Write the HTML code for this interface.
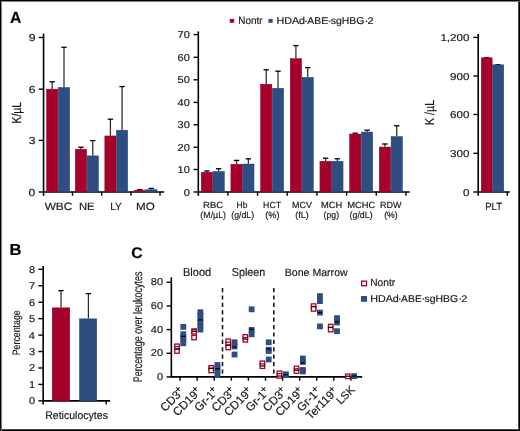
<!DOCTYPE html>
<html><head><meta charset="utf-8"><style>
html,body{margin:0;padding:0;background:#fff;}
svg{display:block;will-change:transform;font-family:"Liberation Sans",sans-serif;}
text{stroke:#1a1a1a;stroke-width:0.18px;text-rendering:geometricPrecision;}
</style></head><body>
<svg width="520" height="431" viewBox="0 0 520 431">
<rect x="0" y="0" width="520" height="431" fill="#fff"/>
<text transform="translate(9.9,23) scale(0.98,1)" font-size="16.09" font-weight="bold" fill="#000">A</text>
<text transform="translate(9.52,255.4) scale(1.04,1)" font-size="15.94" font-weight="bold" fill="#000">B</text>
<text transform="translate(131.27,258.3) scale(1.02,1)" font-size="15.43" font-weight="bold" fill="#000">C</text>
<line x1="43.55" y1="33.6" x2="43.55" y2="195.8" stroke="#000" stroke-width="1.6"/>
<line x1="42.8" y1="192" x2="164.2" y2="192" stroke="#000" stroke-width="1.6"/>
<line x1="38.75" y1="192" x2="43.05" y2="192" stroke="#000" stroke-width="1.4"/>
<text transform="translate(28.6,195.8) scale(1.2,1)" font-size="10.1" fill="#1a1a1a">0</text>
<line x1="38.75" y1="140.4" x2="43.05" y2="140.4" stroke="#000" stroke-width="1.4"/>
<text transform="translate(28.66,144.2) scale(1.2,1)" font-size="10.1" fill="#1a1a1a">3</text>
<line x1="38.75" y1="89.15" x2="43.05" y2="89.15" stroke="#000" stroke-width="1.4"/>
<text transform="translate(28.66,92.95) scale(1.2,1)" font-size="10.1" fill="#1a1a1a">6</text>
<line x1="38.75" y1="37.5" x2="43.05" y2="37.5" stroke="#000" stroke-width="1.4"/>
<text transform="translate(28.72,41.3) scale(1.2,1)" font-size="10.1" fill="#1a1a1a">9</text>
<line x1="72.5" y1="192" x2="72.5" y2="195.8" stroke="#000" stroke-width="1.4"/>
<line x1="101.7" y1="192" x2="101.7" y2="195.8" stroke="#000" stroke-width="1.4"/>
<line x1="131" y1="192" x2="131" y2="195.8" stroke="#000" stroke-width="1.4"/>
<line x1="160" y1="192" x2="160" y2="195.8" stroke="#000" stroke-width="1.4"/>
<text transform="translate(21,123.53) rotate(-90) scale(0.81,1)" font-size="12.9" fill="#1a1a1a">K/µL</text>
<line x1="52.2" y1="81.6" x2="52.2" y2="88.9" stroke="#2a2a2a" stroke-width="1.25"/>
<line x1="49.5" y1="81.8" x2="54.9" y2="81.8" stroke="#000" stroke-width="1.3"/>
<line x1="64" y1="47" x2="64" y2="87.2" stroke="#2a2a2a" stroke-width="1.25"/>
<line x1="61.3" y1="47.2" x2="66.7" y2="47.2" stroke="#000" stroke-width="1.3"/>
<rect x="46.55" y="89.15" width="11.3" height="102.85" fill="#a6002c" stroke="#8c001f" stroke-width="0.5"/>
<rect x="58.35" y="87.45" width="11.3" height="104.55" fill="#2e4d80" stroke="#223f74" stroke-width="0.5"/>
<line x1="80.95" y1="147" x2="80.95" y2="149" stroke="#2a2a2a" stroke-width="1.25"/>
<line x1="78.25" y1="147.2" x2="83.65" y2="147.2" stroke="#000" stroke-width="1.3"/>
<line x1="92.75" y1="140.4" x2="92.75" y2="155.6" stroke="#2a2a2a" stroke-width="1.25"/>
<line x1="90.05" y1="140.6" x2="95.45" y2="140.6" stroke="#000" stroke-width="1.3"/>
<rect x="75.3" y="149.25" width="11.3" height="42.75" fill="#a6002c" stroke="#8c001f" stroke-width="0.5"/>
<rect x="87.1" y="155.85" width="11.3" height="36.15" fill="#2e4d80" stroke="#223f74" stroke-width="0.5"/>
<line x1="110.42" y1="119" x2="110.42" y2="135.7" stroke="#2a2a2a" stroke-width="1.25"/>
<line x1="107.72" y1="119.2" x2="113.12" y2="119.2" stroke="#000" stroke-width="1.3"/>
<line x1="122.08" y1="86.4" x2="122.08" y2="129.96" stroke="#2a2a2a" stroke-width="1.25"/>
<line x1="119.38" y1="86.6" x2="124.78" y2="86.6" stroke="#000" stroke-width="1.3"/>
<rect x="104.85" y="135.95" width="11.15" height="56.05" fill="#a6002c" stroke="#8c001f" stroke-width="0.5"/>
<rect x="116.5" y="130.21" width="11.15" height="61.79" fill="#2e4d80" stroke="#223f74" stroke-width="0.5"/>
<line x1="139.8" y1="189.5" x2="139.8" y2="189.9" stroke="#2a2a2a" stroke-width="1.25"/>
<line x1="137.1" y1="189.7" x2="142.5" y2="189.7" stroke="#000" stroke-width="1.3"/>
<line x1="151.35" y1="188.2" x2="151.35" y2="189.4" stroke="#2a2a2a" stroke-width="1.25"/>
<line x1="148.65" y1="188.4" x2="154.05" y2="188.4" stroke="#000" stroke-width="1.3"/>
<rect x="134.35" y="190.15" width="10.9" height="1.85" fill="#a6002c" stroke="#8c001f" stroke-width="0.5"/>
<rect x="145.75" y="189.65" width="11.2" height="2.35" fill="#2e4d80" stroke="#223f74" stroke-width="0.5"/>
<text transform="translate(44.64,209.6) scale(1.12,1)" font-size="10.58" fill="#1a1a1a">WBC</text>
<text transform="translate(79,209.6) scale(1.06,1)" font-size="10.58" fill="#1a1a1a">NE</text>
<text transform="translate(110.19,209.6) scale(0.96,1)" font-size="10.58" fill="#1a1a1a">LY</text>
<text transform="translate(135.97,209.6) scale(1.1,1)" font-size="10.58" fill="#1a1a1a">MO</text>
<line x1="198.3" y1="31.4" x2="198.3" y2="195.8" stroke="#000" stroke-width="1.6"/>
<line x1="197.55" y1="192" x2="409.8" y2="192" stroke="#000" stroke-width="1.6"/>
<line x1="193.5" y1="192" x2="197.8" y2="192" stroke="#000" stroke-width="1.4"/>
<text transform="translate(183.68,195.5) scale(1.1,1)" font-size="10" fill="#1a1a1a">0</text>
<line x1="193.5" y1="169.5" x2="197.8" y2="169.5" stroke="#000" stroke-width="1.4"/>
<text transform="translate(177.58,173) scale(1.1,1)" font-size="10" fill="#1a1a1a">10</text>
<line x1="193.5" y1="147.3" x2="197.8" y2="147.3" stroke="#000" stroke-width="1.4"/>
<text transform="translate(177.58,150.8) scale(1.1,1)" font-size="10" fill="#1a1a1a">20</text>
<line x1="193.5" y1="124.8" x2="197.8" y2="124.8" stroke="#000" stroke-width="1.4"/>
<text transform="translate(177.58,128.3) scale(1.1,1)" font-size="10" fill="#1a1a1a">30</text>
<line x1="193.5" y1="102.4" x2="197.8" y2="102.4" stroke="#000" stroke-width="1.4"/>
<text transform="translate(177.58,105.9) scale(1.1,1)" font-size="10" fill="#1a1a1a">40</text>
<line x1="193.5" y1="79.8" x2="197.8" y2="79.8" stroke="#000" stroke-width="1.4"/>
<text transform="translate(177.58,83.3) scale(1.1,1)" font-size="10" fill="#1a1a1a">50</text>
<line x1="193.5" y1="57.3" x2="197.8" y2="57.3" stroke="#000" stroke-width="1.4"/>
<text transform="translate(177.58,60.8) scale(1.1,1)" font-size="10" fill="#1a1a1a">60</text>
<line x1="193.5" y1="34.6" x2="197.8" y2="34.6" stroke="#000" stroke-width="1.4"/>
<text transform="translate(177.58,38.1) scale(1.1,1)" font-size="10" fill="#1a1a1a">70</text>
<line x1="227.88" y1="192" x2="227.88" y2="195.8" stroke="#000" stroke-width="1.4"/>
<line x1="257.56" y1="192" x2="257.56" y2="195.8" stroke="#000" stroke-width="1.4"/>
<line x1="287.24" y1="192" x2="287.24" y2="195.8" stroke="#000" stroke-width="1.4"/>
<line x1="316.92" y1="192" x2="316.92" y2="195.8" stroke="#000" stroke-width="1.4"/>
<line x1="346.6" y1="192" x2="346.6" y2="195.8" stroke="#000" stroke-width="1.4"/>
<line x1="376.28" y1="192" x2="376.28" y2="195.8" stroke="#000" stroke-width="1.4"/>
<line x1="405.96" y1="192" x2="405.96" y2="195.8" stroke="#000" stroke-width="1.4"/>
<line x1="206.87" y1="170.8" x2="206.87" y2="172" stroke="#2a2a2a" stroke-width="1.25"/>
<line x1="204.17" y1="171" x2="209.57" y2="171" stroke="#000" stroke-width="1.3"/>
<line x1="218.67" y1="168.5" x2="218.67" y2="171.2" stroke="#2a2a2a" stroke-width="1.25"/>
<line x1="215.97" y1="168.7" x2="221.37" y2="168.7" stroke="#000" stroke-width="1.3"/>
<rect x="201.22" y="172.25" width="11.3" height="19.75" fill="#a6002c" stroke="#8c001f" stroke-width="0.5"/>
<rect x="213.02" y="171.45" width="11.3" height="20.55" fill="#2e4d80" stroke="#223f74" stroke-width="0.5"/>
<line x1="236.55" y1="160.2" x2="236.55" y2="164" stroke="#2a2a2a" stroke-width="1.25"/>
<line x1="233.85" y1="160.4" x2="239.25" y2="160.4" stroke="#000" stroke-width="1.3"/>
<line x1="248.35" y1="158.6" x2="248.35" y2="163.8" stroke="#2a2a2a" stroke-width="1.25"/>
<line x1="245.65" y1="158.8" x2="251.05" y2="158.8" stroke="#000" stroke-width="1.3"/>
<rect x="230.9" y="164.25" width="11.3" height="27.75" fill="#a6002c" stroke="#8c001f" stroke-width="0.5"/>
<rect x="242.7" y="164.05" width="11.3" height="27.95" fill="#2e4d80" stroke="#223f74" stroke-width="0.5"/>
<line x1="266.23" y1="69.6" x2="266.23" y2="84" stroke="#2a2a2a" stroke-width="1.25"/>
<line x1="263.53" y1="69.8" x2="268.93" y2="69.8" stroke="#000" stroke-width="1.3"/>
<line x1="278.03" y1="71" x2="278.03" y2="88" stroke="#2a2a2a" stroke-width="1.25"/>
<line x1="275.33" y1="71.2" x2="280.73" y2="71.2" stroke="#000" stroke-width="1.3"/>
<rect x="260.58" y="84.25" width="11.3" height="107.75" fill="#a6002c" stroke="#8c001f" stroke-width="0.5"/>
<rect x="272.38" y="88.25" width="11.3" height="103.75" fill="#2e4d80" stroke="#223f74" stroke-width="0.5"/>
<line x1="295.91" y1="45.4" x2="295.91" y2="58.4" stroke="#2a2a2a" stroke-width="1.25"/>
<line x1="293.21" y1="45.6" x2="298.61" y2="45.6" stroke="#000" stroke-width="1.3"/>
<line x1="307.71" y1="67.4" x2="307.71" y2="77.2" stroke="#2a2a2a" stroke-width="1.25"/>
<line x1="305.01" y1="67.6" x2="310.41" y2="67.6" stroke="#000" stroke-width="1.3"/>
<rect x="290.26" y="58.65" width="11.3" height="133.35" fill="#a6002c" stroke="#8c001f" stroke-width="0.5"/>
<rect x="302.06" y="77.45" width="11.3" height="114.55" fill="#2e4d80" stroke="#223f74" stroke-width="0.5"/>
<line x1="325.59" y1="158" x2="325.59" y2="161" stroke="#2a2a2a" stroke-width="1.25"/>
<line x1="322.89" y1="158.2" x2="328.29" y2="158.2" stroke="#000" stroke-width="1.3"/>
<line x1="337.39" y1="158.6" x2="337.39" y2="161" stroke="#2a2a2a" stroke-width="1.25"/>
<line x1="334.69" y1="158.8" x2="340.09" y2="158.8" stroke="#000" stroke-width="1.3"/>
<rect x="319.94" y="161.25" width="11.3" height="30.75" fill="#a6002c" stroke="#8c001f" stroke-width="0.5"/>
<rect x="331.74" y="161.25" width="11.3" height="30.75" fill="#2e4d80" stroke="#223f74" stroke-width="0.5"/>
<line x1="355.27" y1="133" x2="355.27" y2="133.8" stroke="#2a2a2a" stroke-width="1.25"/>
<line x1="352.57" y1="133.2" x2="357.97" y2="133.2" stroke="#000" stroke-width="1.3"/>
<line x1="367.07" y1="130" x2="367.07" y2="131.8" stroke="#2a2a2a" stroke-width="1.25"/>
<line x1="364.37" y1="130.2" x2="369.77" y2="130.2" stroke="#000" stroke-width="1.3"/>
<rect x="349.62" y="134.05" width="11.3" height="57.95" fill="#a6002c" stroke="#8c001f" stroke-width="0.5"/>
<rect x="361.42" y="132.05" width="11.3" height="59.95" fill="#2e4d80" stroke="#223f74" stroke-width="0.5"/>
<line x1="384.95" y1="143.8" x2="384.95" y2="146.8" stroke="#2a2a2a" stroke-width="1.25"/>
<line x1="382.25" y1="144" x2="387.65" y2="144" stroke="#000" stroke-width="1.3"/>
<line x1="396.75" y1="125.6" x2="396.75" y2="136.3" stroke="#2a2a2a" stroke-width="1.25"/>
<line x1="394.05" y1="125.8" x2="399.45" y2="125.8" stroke="#000" stroke-width="1.3"/>
<rect x="379.3" y="147.05" width="11.3" height="44.95" fill="#a6002c" stroke="#8c001f" stroke-width="0.5"/>
<rect x="391.1" y="136.55" width="11.3" height="55.45" fill="#2e4d80" stroke="#223f74" stroke-width="0.5"/>
<text transform="translate(203.03,207.7) scale(1.08,1)" font-size="8.84" fill="#1a1a1a">RBC</text>
<text transform="translate(200.37,218.09) scale(0.97,1)" font-size="9.09" fill="#1a1a1a">(M/µL)</text>
<text transform="translate(236.62,207.7) scale(0.96,1)" font-size="8.84" fill="#1a1a1a">Hb</text>
<text transform="translate(231.28,218.09) scale(0.96,1)" font-size="9.09" fill="#1a1a1a">(g/dL)</text>
<text transform="translate(263.1,207.7) scale(0.99,1)" font-size="8.84" fill="#1a1a1a">HCT</text>
<text transform="translate(265.25,218.09) scale(1.01,1)" font-size="9.09" fill="#1a1a1a">(%)</text>
<text transform="translate(291.88,207.7) scale(1.02,1)" font-size="8.84" fill="#1a1a1a">MCV</text>
<text transform="translate(295.27,218.09) scale(0.98,1)" font-size="9.09" fill="#1a1a1a">(fL)</text>
<text transform="translate(321.05,207.7) scale(1.06,1)" font-size="8.84" fill="#1a1a1a">MCH</text>
<text transform="translate(323.57,218.09) scale(0.96,1)" font-size="9.09" fill="#1a1a1a">(pg)</text>
<text transform="translate(347.15,207.7) scale(1.06,1)" font-size="8.84" fill="#1a1a1a">MCHC</text>
<text transform="translate(349.57,218.09) scale(0.97,1)" font-size="9.09" fill="#1a1a1a">(g/dL)</text>
<text transform="translate(380.08,207.7) scale(1.02,1)" font-size="8.84" fill="#1a1a1a">RDW</text>
<text transform="translate(384.18,218.09) scale(0.96,1)" font-size="9.09" fill="#1a1a1a">(%)</text>
<rect x="229.8" y="18.9" width="4.3" height="3.9" fill="#a6002c"/>
<text transform="translate(238.31,23.8) scale(0.95,1)" font-size="10.43" fill="#1a1a1a">Nontr</text>
<rect x="268.4" y="18.9" width="4.3" height="3.9" fill="#2e4d80"/>
<text transform="translate(276.45,23.8) scale(1.07,1)" font-size="10" fill="#1a1a1a">HDAd</text>
<text transform="translate(307.3,23.8) scale(1.07,1)" font-size="9.71" fill="#1a1a1a">ABE</text>
<text transform="translate(330.79,23.8) scale(1.04,1)" font-size="10" fill="#1a1a1a">sgHBG</text>
<text transform="translate(367.55,23.8) scale(1.13,1)" font-size="9.71" fill="#1a1a1a">2</text>
<rect x="305.2" y="20.7" width="1.6" height="1.2" fill="#1a1a1a"/>
<rect x="328.7" y="20.7" width="1.6" height="1.2" fill="#1a1a1a"/>
<rect x="365.7" y="20.7" width="1.6" height="1.2" fill="#1a1a1a"/>
<line x1="478.2" y1="34" x2="478.2" y2="195.8" stroke="#000" stroke-width="1.6"/>
<line x1="477.45" y1="192" x2="509.8" y2="192" stroke="#000" stroke-width="1.6"/>
<line x1="473.4" y1="192" x2="477.7" y2="192" stroke="#000" stroke-width="1.4"/>
<text transform="translate(462.97,195.6) scale(1.16,1)" font-size="10" fill="#1a1a1a">0</text>
<line x1="473.4" y1="153.3" x2="477.7" y2="153.3" stroke="#000" stroke-width="1.4"/>
<text transform="translate(450.09,156.9) scale(1.16,1)" font-size="10" fill="#1a1a1a">300</text>
<line x1="473.4" y1="114.5" x2="477.7" y2="114.5" stroke="#000" stroke-width="1.4"/>
<text transform="translate(450.09,118.1) scale(1.16,1)" font-size="10" fill="#1a1a1a">600</text>
<line x1="473.4" y1="76" x2="477.7" y2="76" stroke="#000" stroke-width="1.4"/>
<text transform="translate(450.09,79.6) scale(1.16,1)" font-size="10" fill="#1a1a1a">900</text>
<line x1="473.4" y1="37.4" x2="477.7" y2="37.4" stroke="#000" stroke-width="1.4"/>
<text transform="translate(440.41,41) scale(1.16,1)" font-size="10" fill="#1a1a1a">1,200</text>
<line x1="507.3" y1="192" x2="507.3" y2="195.8" stroke="#000" stroke-width="1.4"/>
<line x1="486.6" y1="57.45" x2="486.6" y2="58.5" stroke="#2a2a2a" stroke-width="1.25"/>
<line x1="484.1" y1="57.65" x2="489.1" y2="57.65" stroke="#000" stroke-width="1.3"/>
<line x1="497.95" y1="64.45" x2="497.95" y2="65.5" stroke="#2a2a2a" stroke-width="1.25"/>
<line x1="495.45" y1="64.65" x2="500.45" y2="64.65" stroke="#000" stroke-width="1.3"/>
<rect x="481.25" y="57.85" width="10.9" height="134.15" fill="#a6002c" stroke="#8c001f" stroke-width="0.5"/>
<rect x="492.65" y="64.85" width="11.1" height="127.15" fill="#2e4d80" stroke="#223f74" stroke-width="0.5"/>
<text transform="translate(485.13,209.8) scale(0.92,1)" font-size="10.43" fill="#1a1a1a">PLT</text>
<text transform="translate(433.8,125.05) rotate(-90) scale(0.82,1)" font-size="13.04" fill="#1a1a1a">K /µL</text>
<line x1="43.15" y1="266" x2="43.15" y2="404.6" stroke="#000" stroke-width="1.6"/>
<line x1="42.4" y1="400.85" x2="110.2" y2="400.85" stroke="#000" stroke-width="1.6"/>
<line x1="38.35" y1="400.85" x2="42.65" y2="400.85" stroke="#000" stroke-width="1.4"/>
<text transform="translate(28.88,404.35) scale(1.1,1)" font-size="10" fill="#1a1a1a">0</text>
<line x1="38.35" y1="384.41" x2="42.65" y2="384.41" stroke="#000" stroke-width="1.4"/>
<text transform="translate(28.99,387.91) scale(1.1,1)" font-size="10" fill="#1a1a1a">1</text>
<line x1="38.35" y1="367.97" x2="42.65" y2="367.97" stroke="#000" stroke-width="1.4"/>
<text transform="translate(29.05,371.47) scale(1.1,1)" font-size="10" fill="#1a1a1a">2</text>
<line x1="38.35" y1="351.53" x2="42.65" y2="351.53" stroke="#000" stroke-width="1.4"/>
<text transform="translate(28.94,355.03) scale(1.1,1)" font-size="10" fill="#1a1a1a">3</text>
<line x1="38.35" y1="335.09" x2="42.65" y2="335.09" stroke="#000" stroke-width="1.4"/>
<text transform="translate(28.83,338.59) scale(1.1,1)" font-size="10" fill="#1a1a1a">4</text>
<line x1="38.35" y1="318.65" x2="42.65" y2="318.65" stroke="#000" stroke-width="1.4"/>
<text transform="translate(28.94,322.15) scale(1.1,1)" font-size="10" fill="#1a1a1a">5</text>
<line x1="38.35" y1="302.21" x2="42.65" y2="302.21" stroke="#000" stroke-width="1.4"/>
<text transform="translate(28.94,305.71) scale(1.1,1)" font-size="10" fill="#1a1a1a">6</text>
<line x1="38.35" y1="285.77" x2="42.65" y2="285.77" stroke="#000" stroke-width="1.4"/>
<text transform="translate(29.05,289.27) scale(1.1,1)" font-size="10" fill="#1a1a1a">7</text>
<line x1="38.35" y1="269.33" x2="42.65" y2="269.33" stroke="#000" stroke-width="1.4"/>
<text transform="translate(28.94,272.83) scale(1.1,1)" font-size="10" fill="#1a1a1a">8</text>
<line x1="106.2" y1="400.85" x2="106.2" y2="404.6" stroke="#000" stroke-width="1.4"/>
<line x1="61" y1="290.4" x2="61" y2="307.6" stroke="#2a2a2a" stroke-width="1.25"/>
<line x1="58.3" y1="290.6" x2="63.7" y2="290.6" stroke="#000" stroke-width="1.3"/>
<line x1="88.4" y1="293.4" x2="88.4" y2="318.6" stroke="#2a2a2a" stroke-width="1.25"/>
<line x1="85.7" y1="293.6" x2="91.1" y2="293.6" stroke="#000" stroke-width="1.3"/>
<rect x="52.25" y="307.85" width="17.5" height="93" fill="#a6002c" stroke="#8c001f" stroke-width="0.5"/>
<rect x="79.45" y="318.85" width="17.3" height="82" fill="#2e4d80" stroke="#223f74" stroke-width="0.5"/>
<text transform="translate(45.15,418.6) scale(0.96,1)" font-size="11.01" fill="#1a1a1a">Reticulocytes</text>
<text transform="translate(19.5,355.3) rotate(-90) scale(0.82,1)" font-size="10.72" fill="#1a1a1a">Percentage</text>
<line x1="171.35" y1="277.3" x2="171.35" y2="377.65" stroke="#000" stroke-width="1.6"/>
<line x1="170.6" y1="376.9" x2="362.2" y2="376.9" stroke="#000" stroke-width="1.6"/>
<line x1="166.55" y1="376.9" x2="170.85" y2="376.9" stroke="#000" stroke-width="1.4"/>
<text transform="translate(156.88,380.05) scale(1.1,1)" font-size="10" fill="#1a1a1a">0</text>
<line x1="166.55" y1="353.25" x2="170.85" y2="353.25" stroke="#000" stroke-width="1.4"/>
<text transform="translate(150.78,356.4) scale(1.1,1)" font-size="10" fill="#1a1a1a">20</text>
<line x1="166.55" y1="329.6" x2="170.85" y2="329.6" stroke="#000" stroke-width="1.4"/>
<text transform="translate(150.78,332.75) scale(1.1,1)" font-size="10" fill="#1a1a1a">40</text>
<line x1="166.55" y1="305.95" x2="170.85" y2="305.95" stroke="#000" stroke-width="1.4"/>
<text transform="translate(150.78,309.1) scale(1.1,1)" font-size="10" fill="#1a1a1a">60</text>
<line x1="166.55" y1="282.3" x2="170.85" y2="282.3" stroke="#000" stroke-width="1.4"/>
<text transform="translate(150.78,285.45) scale(1.1,1)" font-size="10" fill="#1a1a1a">80</text>
<line x1="180.1" y1="376.9" x2="180.1" y2="380.7" stroke="#000" stroke-width="1.4"/>
<line x1="197.18" y1="376.9" x2="197.18" y2="380.7" stroke="#000" stroke-width="1.4"/>
<line x1="214.26" y1="376.9" x2="214.26" y2="380.7" stroke="#000" stroke-width="1.4"/>
<line x1="231.34" y1="376.9" x2="231.34" y2="380.7" stroke="#000" stroke-width="1.4"/>
<line x1="248.42" y1="376.9" x2="248.42" y2="380.7" stroke="#000" stroke-width="1.4"/>
<line x1="265.5" y1="376.9" x2="265.5" y2="380.7" stroke="#000" stroke-width="1.4"/>
<line x1="282.58" y1="376.9" x2="282.58" y2="380.7" stroke="#000" stroke-width="1.4"/>
<line x1="299.66" y1="376.9" x2="299.66" y2="380.7" stroke="#000" stroke-width="1.4"/>
<line x1="316.74" y1="376.9" x2="316.74" y2="380.7" stroke="#000" stroke-width="1.4"/>
<line x1="333.82" y1="376.9" x2="333.82" y2="380.7" stroke="#000" stroke-width="1.4"/>
<line x1="350.9" y1="376.9" x2="350.9" y2="380.7" stroke="#000" stroke-width="1.4"/>
<line x1="222.5" y1="288" x2="222.5" y2="376.9" stroke="#1a1a1a" stroke-width="1.6" stroke-dasharray="4.2 3.2"/>
<line x1="273.8" y1="288" x2="273.8" y2="376.9" stroke="#1a1a1a" stroke-width="1.6" stroke-dasharray="4.2 3.2"/>
<text transform="translate(183.02,275.9) scale(0.96,1)" font-size="11.45" fill="#1a1a1a">Blood</text>
<text transform="translate(231.82,275.9) scale(0.94,1)" font-size="11.45" fill="#1a1a1a">Spleen</text>
<text transform="translate(284.76,275.9) scale(1,1)" font-size="10.58" fill="#1a1a1a">Bone Marrow</text>
<text transform="translate(142.2,382.22) rotate(-90) scale(0.72,1)" font-size="12.46" fill="#1a1a1a">Percentage over leukocytes</text>
<rect x="180.4" y="324" width="5.8" height="5.8" fill="#2e4d80"/>
<rect x="180.4" y="331.3" width="5.8" height="5.8" fill="#2e4d80"/>
<rect x="180.4" y="334.1" width="5.8" height="5.8" fill="#2e4d80"/>
<rect x="180.4" y="337.1" width="5.8" height="5.8" fill="#2e4d80"/>
<rect x="180.4" y="340.4" width="5.8" height="5.8" fill="#2e4d80"/>
<rect x="174.75" y="344.05" width="4.5" height="4.5" fill="#fff" stroke="#a6002c" stroke-width="1.3"/>
<rect x="174.75" y="346.55" width="4.5" height="4.5" fill="#fff" stroke="#a6002c" stroke-width="1.3"/>
<rect x="174.75" y="348.75" width="4.5" height="4.5" fill="#fff" stroke="#a6002c" stroke-width="1.3"/>
<line x1="174.9" y1="349" x2="179.3" y2="349" stroke="#000" stroke-width="1.2"/>
<line x1="181.1" y1="336.4" x2="185.5" y2="336.4" stroke="#000" stroke-width="1.2"/>
<rect x="197.48" y="309.3" width="5.8" height="5.8" fill="#2e4d80"/>
<rect x="197.48" y="312.6" width="5.8" height="5.8" fill="#2e4d80"/>
<rect x="197.48" y="316.6" width="5.8" height="5.8" fill="#2e4d80"/>
<rect x="197.48" y="319.6" width="5.8" height="5.8" fill="#2e4d80"/>
<rect x="197.48" y="323.1" width="5.8" height="5.8" fill="#2e4d80"/>
<rect x="197.48" y="326.7" width="5.8" height="5.8" fill="#2e4d80"/>
<rect x="191.83" y="328.95" width="4.5" height="4.5" fill="#fff" stroke="#a6002c" stroke-width="1.3"/>
<rect x="191.83" y="329.55" width="4.5" height="4.5" fill="#fff" stroke="#a6002c" stroke-width="1.3"/>
<rect x="191.83" y="335.25" width="4.5" height="4.5" fill="#fff" stroke="#a6002c" stroke-width="1.3"/>
<line x1="191.98" y1="331.3" x2="196.38" y2="331.3" stroke="#000" stroke-width="1.2"/>
<line x1="198.18" y1="319.9" x2="202.58" y2="319.9" stroke="#000" stroke-width="1.2"/>
<rect x="214.56" y="362.1" width="5.8" height="5.8" fill="#2e4d80"/>
<rect x="214.56" y="365.1" width="5.8" height="5.8" fill="#2e4d80"/>
<rect x="214.56" y="368.1" width="5.8" height="5.8" fill="#2e4d80"/>
<rect x="214.56" y="372" width="5.8" height="5.8" fill="#2e4d80"/>
<rect x="208.91" y="365.65" width="4.5" height="4.5" fill="#fff" stroke="#a6002c" stroke-width="1.3"/>
<rect x="208.91" y="368.15" width="4.5" height="4.5" fill="#fff" stroke="#a6002c" stroke-width="1.3"/>
<line x1="209.06" y1="368.5" x2="213.46" y2="368.5" stroke="#000" stroke-width="1.2"/>
<line x1="215.26" y1="368.8" x2="219.66" y2="368.8" stroke="#000" stroke-width="1.2"/>
<rect x="231.64" y="339.4" width="5.8" height="5.8" fill="#2e4d80"/>
<rect x="231.64" y="343.6" width="5.8" height="5.8" fill="#2e4d80"/>
<rect x="231.64" y="351.6" width="5.8" height="5.8" fill="#2e4d80"/>
<rect x="225.99" y="339.05" width="4.5" height="4.5" fill="#fff" stroke="#a6002c" stroke-width="1.3"/>
<rect x="225.99" y="342.25" width="4.5" height="4.5" fill="#fff" stroke="#a6002c" stroke-width="1.3"/>
<rect x="225.99" y="345.25" width="4.5" height="4.5" fill="#fff" stroke="#a6002c" stroke-width="1.3"/>
<line x1="226.14" y1="345.1" x2="230.54" y2="345.1" stroke="#000" stroke-width="1.2"/>
<line x1="232.34" y1="347" x2="236.74" y2="347" stroke="#000" stroke-width="1.2"/>
<rect x="248.72" y="306.4" width="5.8" height="5.8" fill="#2e4d80"/>
<rect x="248.72" y="327" width="5.8" height="5.8" fill="#2e4d80"/>
<rect x="248.72" y="331.4" width="5.8" height="5.8" fill="#2e4d80"/>
<rect x="243.07" y="334.65" width="4.5" height="4.5" fill="#fff" stroke="#a6002c" stroke-width="1.3"/>
<rect x="243.07" y="337.55" width="4.5" height="4.5" fill="#fff" stroke="#a6002c" stroke-width="1.3"/>
<line x1="243.22" y1="339.1" x2="247.62" y2="339.1" stroke="#000" stroke-width="1.2"/>
<line x1="249.42" y1="329.3" x2="253.82" y2="329.3" stroke="#000" stroke-width="1.2"/>
<rect x="265.8" y="339.4" width="5.8" height="5.8" fill="#2e4d80"/>
<rect x="265.8" y="346.8" width="5.8" height="5.8" fill="#2e4d80"/>
<rect x="265.8" y="348.1" width="5.8" height="5.8" fill="#2e4d80"/>
<rect x="265.8" y="356.6" width="5.8" height="5.8" fill="#2e4d80"/>
<rect x="260.15" y="361.05" width="4.5" height="4.5" fill="#fff" stroke="#a6002c" stroke-width="1.3"/>
<rect x="260.15" y="363.95" width="4.5" height="4.5" fill="#fff" stroke="#a6002c" stroke-width="1.3"/>
<line x1="260.3" y1="366" x2="264.7" y2="366" stroke="#000" stroke-width="1.2"/>
<line x1="266.5" y1="349.1" x2="270.9" y2="349.1" stroke="#000" stroke-width="1.2"/>
<rect x="282.88" y="371.4" width="5.8" height="5.8" fill="#2e4d80"/>
<rect x="282.88" y="372.2" width="5.8" height="5.8" fill="#2e4d80"/>
<rect x="277.23" y="371.05" width="4.5" height="4.5" fill="#fff" stroke="#a6002c" stroke-width="1.3"/>
<rect x="277.23" y="373.65" width="4.5" height="4.5" fill="#fff" stroke="#a6002c" stroke-width="1.3"/>
<line x1="277.38" y1="376" x2="281.78" y2="376" stroke="#000" stroke-width="1.2"/>
<line x1="283.58" y1="374.8" x2="287.98" y2="374.8" stroke="#000" stroke-width="1.2"/>
<rect x="299.96" y="355.6" width="5.8" height="5.8" fill="#2e4d80"/>
<rect x="299.96" y="359.1" width="5.8" height="5.8" fill="#2e4d80"/>
<rect x="299.96" y="367.1" width="5.8" height="5.8" fill="#2e4d80"/>
<rect x="299.96" y="368.6" width="5.8" height="5.8" fill="#2e4d80"/>
<rect x="294.31" y="366.15" width="4.5" height="4.5" fill="#fff" stroke="#a6002c" stroke-width="1.3"/>
<rect x="294.31" y="368.75" width="4.5" height="4.5" fill="#fff" stroke="#a6002c" stroke-width="1.3"/>
<line x1="294.46" y1="370.3" x2="298.86" y2="370.3" stroke="#000" stroke-width="1.2"/>
<line x1="300.66" y1="362.8" x2="305.06" y2="362.8" stroke="#000" stroke-width="1.2"/>
<rect x="317.04" y="293.2" width="5.8" height="5.8" fill="#2e4d80"/>
<rect x="317.04" y="298.2" width="5.8" height="5.8" fill="#2e4d80"/>
<rect x="317.04" y="309.7" width="5.8" height="5.8" fill="#2e4d80"/>
<rect x="317.04" y="323.5" width="5.8" height="5.8" fill="#2e4d80"/>
<rect x="311.39" y="303.85" width="4.5" height="4.5" fill="#fff" stroke="#a6002c" stroke-width="1.3"/>
<rect x="311.39" y="306.65" width="4.5" height="4.5" fill="#fff" stroke="#a6002c" stroke-width="1.3"/>
<line x1="311.54" y1="306.5" x2="315.94" y2="306.5" stroke="#000" stroke-width="1.2"/>
<line x1="317.74" y1="312.5" x2="322.14" y2="312.5" stroke="#000" stroke-width="1.2"/>
<rect x="334.12" y="315.2" width="5.8" height="5.8" fill="#2e4d80"/>
<rect x="334.12" y="319.6" width="5.8" height="5.8" fill="#2e4d80"/>
<rect x="334.12" y="328.3" width="5.8" height="5.8" fill="#2e4d80"/>
<rect x="328.47" y="324.35" width="4.5" height="4.5" fill="#fff" stroke="#a6002c" stroke-width="1.3"/>
<rect x="328.47" y="327.35" width="4.5" height="4.5" fill="#fff" stroke="#a6002c" stroke-width="1.3"/>
<line x1="328.62" y1="327.4" x2="333.02" y2="327.4" stroke="#000" stroke-width="1.2"/>
<line x1="334.82" y1="321.9" x2="339.22" y2="321.9" stroke="#000" stroke-width="1.2"/>
<rect x="351.2" y="373.2" width="5.8" height="5.8" fill="#2e4d80"/>
<rect x="345.55" y="374.05" width="4.5" height="4.5" fill="#fff" stroke="#a6002c" stroke-width="1.3"/>
<line x1="345.7" y1="376.2" x2="350.1" y2="376.2" stroke="#000" stroke-width="1.2"/>
<line x1="351.9" y1="376.1" x2="356.3" y2="376.1" stroke="#000" stroke-width="1.2"/>
<text transform="translate(181.47,395.6) rotate(-45)" font-size="11.7" text-anchor="end" fill="#1a1a1a">CD3</text><text transform="translate(178.28,393.75) rotate(-45)" font-size="10.5" fill="#1a1a1a">+</text>
<text transform="translate(198.55,395.6) rotate(-45)" font-size="11.7" text-anchor="end" fill="#1a1a1a">CD19</text><text transform="translate(195.36,393.75) rotate(-45)" font-size="10.5" fill="#1a1a1a">+</text>
<text transform="translate(215.63,395.6) rotate(-45)" font-size="11.7" text-anchor="end" fill="#1a1a1a">Gr-1</text><text transform="translate(212.44,393.75) rotate(-45)" font-size="10.5" fill="#1a1a1a">+</text>
<text transform="translate(232.71,395.6) rotate(-45)" font-size="11.7" text-anchor="end" fill="#1a1a1a">CD3</text><text transform="translate(229.52,393.75) rotate(-45)" font-size="10.5" fill="#1a1a1a">+</text>
<text transform="translate(249.79,395.6) rotate(-45)" font-size="11.7" text-anchor="end" fill="#1a1a1a">CD19</text><text transform="translate(246.6,393.75) rotate(-45)" font-size="10.5" fill="#1a1a1a">+</text>
<text transform="translate(266.87,395.6) rotate(-45)" font-size="11.7" text-anchor="end" fill="#1a1a1a">Gr-1</text><text transform="translate(263.68,393.75) rotate(-45)" font-size="10.5" fill="#1a1a1a">+</text>
<text transform="translate(283.95,395.6) rotate(-45)" font-size="11.7" text-anchor="end" fill="#1a1a1a">CD3</text><text transform="translate(280.76,393.75) rotate(-45)" font-size="10.5" fill="#1a1a1a">+</text>
<text transform="translate(301.03,395.6) rotate(-45)" font-size="11.7" text-anchor="end" fill="#1a1a1a">CD19</text><text transform="translate(297.84,393.75) rotate(-45)" font-size="10.5" fill="#1a1a1a">+</text>
<text transform="translate(318.11,395.6) rotate(-45)" font-size="11.7" text-anchor="end" fill="#1a1a1a">Gr-1</text><text transform="translate(314.92,393.75) rotate(-45)" font-size="10.5" fill="#1a1a1a">+</text>
<text transform="translate(335.19,395.6) rotate(-45)" font-size="11.7" text-anchor="end" fill="#1a1a1a">Ter119</text><text transform="translate(332,393.75) rotate(-45)" font-size="10.5" fill="#1a1a1a">+</text>
<text transform="translate(355.5,390.4) rotate(-45)" font-size="11.0" text-anchor="end" fill="#1a1a1a">LSK</text>
<rect x="361.65" y="281.15" width="4.9" height="4.6" fill="#fff" stroke="#a6002c" stroke-width="1.3"/>
<text transform="translate(370.29,286.4) scale(0.96,1)" font-size="10.58" fill="#1a1a1a">Nontr</text>
<rect x="361" y="296" width="6" height="5.8" fill="#2e4d80"/>
<text transform="translate(370.25,301.5) scale(1.07,1)" font-size="10" fill="#1a1a1a">HDAd</text>
<text transform="translate(401.1,301.5) scale(1.07,1)" font-size="9.71" fill="#1a1a1a">ABE</text>
<text transform="translate(424.59,301.5) scale(1.04,1)" font-size="10" fill="#1a1a1a">sgHBG</text>
<text transform="translate(461.35,301.5) scale(1.13,1)" font-size="9.71" fill="#1a1a1a">2</text>
<rect x="399" y="298.4" width="1.6" height="1.2" fill="#1a1a1a"/>
<rect x="422.5" y="298.4" width="1.6" height="1.2" fill="#1a1a1a"/>
<rect x="459.5" y="298.4" width="1.6" height="1.2" fill="#1a1a1a"/>
<rect x="0.5" y="0.5" width="519" height="430" fill="none" stroke="#000" stroke-width="1"/>
<path d="M1.5 431 V1.5 H520" fill="none" stroke="#808080" stroke-width="1"/>
<path d="M0 429.5 H518.5 V0" fill="none" stroke="#4a4a4a" stroke-width="1"/>
</svg>
</body></html>
